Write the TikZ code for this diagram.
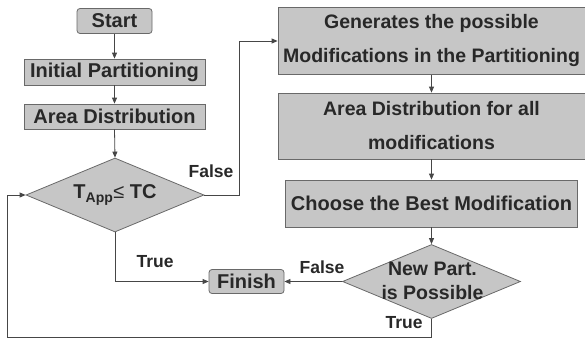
\documentclass[tikz,border=0pt]{standalone}
\usepackage{fontspec}
\setmainfont{Liberation Sans}
\usetikzlibrary{shapes.geometric,arrows.meta}
\definecolor{boxgray}{RGB}{198,198,198}
\definecolor{edgegray}{RGB}{105,105,105}
\definecolor{linegray}{RGB}{70,70,70}
\definecolor{textgray}{RGB}{40,40,40}
\begin{document}
\begin{tikzpicture}
[x=1pt,y=-1pt,
 every node/.style={font=\fontsize{20}{23}\selectfont\bfseries, text=textgray},
 procbox/.style={draw=edgegray, fill=boxgray, line width=0.8pt, inner sep=0pt},
 termbox/.style={procbox, rounded corners=3pt},
 tallbox/.style={procbox, align=center, font=\fontsize{19.5}{34}\selectfont\bfseries},
 decision/.style={procbox, diamond, minimum width=178pt, minimum height=74pt},
 lbl/.style={font=\fontsize{17.5}{20}\selectfont\bfseries},
 flow/.style={draw=linegray, line width=0.8pt, -{Triangle[length=6pt,width=5pt]}}]
\useasboundingbox (0,0) rectangle (585,340);
%% left column
\node[termbox, minimum width=75pt, minimum height=25pt] (start) at (114.5,21) {Start};
\node[procbox, minimum width=181pt, minimum height=26pt] (init) at (114.5,72) {Initial Partitioning};
\node[procbox, minimum width=181pt, minimum height=25pt] (area) at (114.5,116.5) {Area Distribution};
\node[decision] (test) at (115,195) {};
\node (testtxt) at (115,195) {T\textsubscript{App}{\mdseries ≤} TC};
%% right column
\node[tallbox, minimum width=307pt, minimum height=67pt] (gen) at (431.5,41) {Generates the possible\\Modifications in the Partitioning};
\node[tallbox, minimum width=307pt, minimum height=66pt] (areaall) at (431.5,126) {Area Distribution for all\\modifications};
\node[procbox, minimum width=292pt, minimum height=47pt] (best) at (431.5,203.5) {Choose the Best Modification};
\node[decision] (newpart) at (431.5,281.5) {};
\node[align=center, font=\fontsize{19.5}{24}\selectfont\bfseries] (newparttxt) at (432.5,281) {New Part.\\is Possible};
\node[termbox, minimum width=75pt, minimum height=24pt] (finish) at (246.5,281.5) {Finish};
%% connectors
\foreach \a/\b in {start/init, init/area, area/test, gen/areaall, areaall/best, best/newpart}
{
  \draw[flow] (\a.south) -- (\b.north);
}
\coordinate (fbend) at (239.5,41);
\coordinate (loopcorner) at (7,337);
\draw[flow] (test.east) -| (fbend) -- (gen.west);
\draw[flow] (test.south) |- (finish.west);
\draw[flow] (newpart.west) -- (finish.east);
\draw[flow] (newpart.south) |- (loopcorner) |- (test.west);
%% labels
\node[lbl] (falseA) at (211,171) {False};
\node[lbl] (trueA) at (155,262) {True};
\node[lbl] (falseB) at (322,267) {False};
\node[lbl] (trueB) at (404,323) {True};
\end{tikzpicture}
\end{document}
